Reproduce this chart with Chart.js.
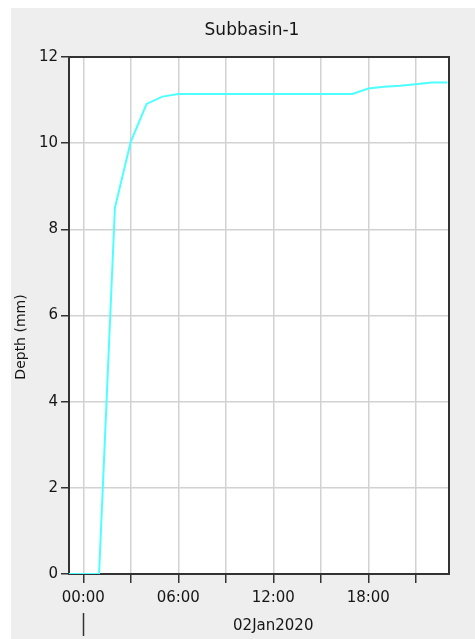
<!DOCTYPE html>
<html>
<head>
<meta charset="utf-8">
<title>Subbasin-1</title>
<script src="https://cdn.jsdelivr.net/npm/chart.js@4.4.1/dist/chart.umd.min.js"></script>
<style>
  html, body { margin: 0; padding: 0; background: #ffffff; }
  #wrap { width: 475px; height: 639px; }
  canvas { display: block; }
</style>
</head>
<body>
<div id="wrap"><canvas id="c" width="475" height="639"></canvas></div>
<script>
// Hours relative to 02Jan2020 00:00
const hours = [-1, 0, 1, 2, 3, 4, 5, 6, 7, 8, 9, 10, 11, 12, 13, 14, 15, 16, 17, 18, 19, 20, 21, 22, 23];
// Cumulative depth (mm)
const depth = [0, 0, 0, 8.5, 10.03, 10.91, 11.08, 11.14, 11.14, 11.14, 11.14, 11.14, 11.14, 11.14, 11.14, 11.14, 11.14, 11.14, 11.14, 11.27, 11.31, 11.33, 11.37, 11.41, 11.41];

const xTickHours = [0, 3, 6, 9, 12, 15, 18, 21];
const xTickLabels = { 0: '00:00', 6: '06:00', 12: '12:00', 18: '18:00' };
const yTicks = [0, 2, 4, 6, 8, 10, 12];

const titleText = 'Subbasin-1';
const yAxisTitle = 'Depth (mm)';
const dateLabel = '02Jan2020';

const FONT = '"DejaVu Sans", sans-serif';
const DARK = '#333333';
const GRID = '#d2d2d2';
const TEXT = '#151515';

const frame = {
  id: 'frame',
  beforeDraw(chart) {
    const ctx = chart.ctx;
    const a = chart.chartArea;
    ctx.save();
    ctx.fillStyle = '#eeeeee';
    ctx.fillRect(11, 8, chart.width - 11, chart.height - 8);
    ctx.fillStyle = '#ffffff';
    ctx.fillRect(a.left, a.top, a.right - a.left, a.bottom - a.top);
    ctx.restore();
  },
  beforeDatasetsDraw(chart) {
    // plot frame, under the series line
    const ctx = chart.ctx;
    const a = chart.chartArea;
    ctx.save();
    ctx.strokeStyle = DARK;
    ctx.lineWidth = 2;
    ctx.strokeRect(a.left, a.top, a.right - a.left, a.bottom - a.top);
    ctx.restore();
  },
  afterDraw(chart) {
    const ctx = chart.ctx;
    const xs = chart.scales.x;
    ctx.save();
    ctx.fillStyle = TEXT;
    // title
    ctx.font = '17px ' + FONT;
    ctx.textAlign = 'center';
    ctx.textBaseline = 'middle';
    ctx.fillText(titleText, 252, 31);

    // y axis title
    ctx.save();
    ctx.translate(21, 337);
    ctx.rotate(-Math.PI / 2);
    ctx.font = '14px ' + FONT;
    ctx.fillText(yAxisTitle, 0, 0);
    ctx.restore();

    // day label and day boundary marker
    ctx.font = '15px ' + FONT;
    ctx.fillText(dateLabel, xs.getPixelForValue(12), 626);
    const x0 = Math.round(xs.getPixelForValue(0)) + 0.5;
    ctx.strokeStyle = DARK;
    ctx.lineWidth = 1.5;
    ctx.beginPath();
    ctx.moveTo(x0, 613);
    ctx.lineTo(x0, 636);
    ctx.stroke();
    ctx.restore();
  }
};

new Chart(document.getElementById('c'), {
  type: 'line',
  data: {
    datasets: [{
      data: hours.map((h, i) => ({ x: h, y: depth[i] })),
      borderColor: '#4dffff',
      borderWidth: 2,
      pointRadius: 0,
      tension: 0,
      fill: false
    }]
  },
  options: {
    responsive: false,
    devicePixelRatio: 1,
    animation: false,
    events: [],
    layout: { padding: { top: 57, right: 26, bottom: 0, left: 0 } },
    plugins: { legend: { display: false }, title: { display: false }, tooltip: { enabled: false } },
    scales: {
      x: {
        type: 'linear',
        min: -0.9,
        max: 23.1,
        afterBuildTicks(scale) { scale.ticks = xTickHours.map(v => ({ value: v })); },
        afterFit(scale) { scale.height = 65; },
        grid: { color: GRID, lineWidth: 1.5, tickColor: DARK, tickLength: 9, drawOnChartArea: true },
        border: { display: false },
        ticks: {
          autoSkip: false,
          maxRotation: 0,
          padding: 6,
          color: TEXT,
          font: { family: FONT, size: 15 },
          callback: v => xTickLabels[v] || ''
        }
      },
      y: {
        type: 'linear',
        min: 0,
        max: 12,
        afterBuildTicks(scale) { scale.ticks = yTicks.map(v => ({ value: v })); },
        afterFit(scale) { scale.width = 69; },
        grid: { color: GRID, lineWidth: 1.5, tickColor: DARK, tickLength: 8 },
        border: { display: false },
        ticks: {
          padding: 3,
          color: TEXT,
          font: { family: FONT, size: 15 },
          callback: v => String(v)
        }
      }
    }
  },
  plugins: [frame]
});
</script>
</body>
</html>
